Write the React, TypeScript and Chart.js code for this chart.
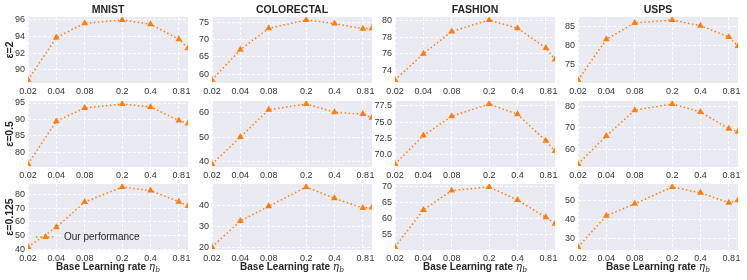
import React, { useEffect, useRef } from 'react';
import { Chart, registerables } from 'chart.js';

Chart.register(...registerables);

// ---------- data ----------
const datasetNames = ['MNIST', 'COLORECTAL', 'FASHION', 'USPS'];
const epsilonLabels = ['ε=2', 'ε=0.5', 'ε=0.125'];
const learningRates = [0.02, 0.04, 0.08, 0.2, 0.4, 0.8, 1];
const xTickLabels = ['0.02', '0.04', '0.08', '0.2', '0.4', '0.8', '1'];
const seriesLabel = 'Our performance';
const xAxisTitle = 'Base Learning rate ';

const mnistEps2 = [88.8, 93.9, 95.6, 96.0, 95.5, 93.7, 92.6];
const colorectalEps2 = [58.4, 67.1, 73.2, 75.6, 74.6, 73.1, 73.2];
const fashionEps2 = [72.8, 76.0, 78.7, 80.1, 79.1, 76.7, 75.3];
const uspsEps2 = [70.8, 81.6, 85.9, 86.7, 85.2, 82.2, 79.8];

const mnistEps05 = [76.5, 89.5, 93.5, 94.7, 93.8, 89.7, 88.8];
const colorectalEps05 = [39.1, 50.0, 61.1, 63.4, 60.1, 59.3, 57.8];
const fashionEps05 = [68.5, 72.9, 75.9, 77.8, 76.2, 72.1, 70.5];
const uspsEps05 = [53.1, 66.2, 78.2, 81.1, 77.4, 69.5, 68.2];

const mnistEps0125 = [41.7, 56.1, 74.5, 85.5, 82.9, 74.8, 71.6];
const colorectalEps0125 = [20.1, 32.5, 39.4, 48.6, 43.2, 38.6, 38.9];
const fashionEps0125 = [51.2, 62.8, 68.9, 70.0, 65.9, 60.5, 58.5];
const uspsEps0125 = [25.3, 41.8, 48.1, 57.0, 53.9, 48.7, 50.0];

const yTicksMnistEps2 = ['90', '92', '94', '96'];
const yTicksColorectalEps2 = ['60', '65', '70', '75'];
const yTicksFashionEps2 = ['74', '76', '78', '80'];
const yTicksUspsEps2 = ['75', '80', '85'];
const yTicksMnistEps05 = ['80', '85', '90', '95'];
const yTicksColorectalEps05 = ['40', '50', '60'];
const yTicksFashionEps05 = ['70.0', '72.5', '75.0', '77.5'];
const yTicksUspsEps05 = ['60', '70', '80'];
const yTicksMnistEps0125 = ['40', '50', '60', '70', '80'];
const yTicksColorectalEps0125 = ['20', '30', '40'];
const yTicksFashionEps0125 = ['55', '60', '65', '70'];
const yTicksUspsEps0125 = ['30', '40', '50'];

const SERIES = [
  [mnistEps2, colorectalEps2, fashionEps2, uspsEps2],
  [mnistEps05, colorectalEps05, fashionEps05, uspsEps05],
  [mnistEps0125, colorectalEps0125, fashionEps0125, uspsEps0125],
];
const Y_TICKS = [
  [yTicksMnistEps2, yTicksColorectalEps2, yTicksFashionEps2, yTicksUspsEps2],
  [yTicksMnistEps05, yTicksColorectalEps05, yTicksFashionEps05, yTicksUspsEps05],
  [yTicksMnistEps0125, yTicksColorectalEps0125, yTicksFashionEps0125, yTicksUspsEps0125],
];

// ---------- layout / style ----------
const PLOT_LEFT = [28, 212, 395, 578];
const PLOT_TOP = [17, 101, 184];
const PLOT_W = 160;
const PLOT_H = 66;
const Y_AXIS_W = 28;
const RIGHT_PAD = 8;
const TOP_PAD = 17;
const FONT = '"Liberation Sans", Arial, Helvetica, sans-serif';
const TEXT_COLOR = '#262626';
const TICK_COLOR = '#333333';
const ORANGE = '#ff7f0e';
const PANEL_BG = '#eaeaf2';

function Panel({ row, col }: { row: number; col: number }) {
  const ref = useRef<HTMLCanvasElement | null>(null);
  const xh = row === 2 ? 32 : 14;
  const left = PLOT_LEFT[col] - Y_AXIS_W;
  const top = PLOT_TOP[row] - TOP_PAD;
  const w = Y_AXIS_W + PLOT_W + RIGHT_PAD;
  const h = TOP_PAD + PLOT_H + xh;

  useEffect(() => {
    const canvas = ref.current;
    if (!canvas) return;
    const values = SERIES[row][col];
    const yTickStr = Y_TICKS[row][col];
    const dmin = Math.min(...values);
    const dmax = Math.max(...values);
    const span = dmax - dmin;
    const yMin = dmin - 0.05 * span;
    const yMax = dmax + 0.05 * span;

    const decor = {
      id: 'decor' + row + '_' + col,
      beforeDraw(chart: any) {
        const { ctx, chartArea: a } = chart;
        ctx.save();
        ctx.fillStyle = PANEL_BG;
        ctx.fillRect(a.left, a.top, a.right - a.left, a.bottom - a.top);
        ctx.restore();
      },
      afterDraw(chart: any) {
        const { ctx, chartArea: a } = chart;
        const cx = (a.left + a.right) / 2;
        ctx.save();
        ctx.fillStyle = TEXT_COLOR;
        if (row === 0) {
          ctx.font = `bold 10.5px ${FONT}`;
          ctx.textAlign = 'center';
          ctx.textBaseline = 'middle';
          ctx.fillText(datasetNames[col], cx, a.top - 7);
        }
        if (col === 0) {
          ctx.save();
          ctx.translate(10, (a.top + a.bottom) / 2);
          ctx.rotate(-Math.PI / 2);
          ctx.font = `bold 10.5px ${FONT}`;
          ctx.textAlign = 'center';
          ctx.textBaseline = 'middle';
          ctx.fillText(epsilonLabels[row], 0, 0);
          ctx.restore();
        }
        if (row === 2) {
          const y = a.bottom + 17;
          ctx.textBaseline = 'middle';
          ctx.textAlign = 'left';
          const f1 = `bold 10px ${FONT}`;
          const f2 = `italic 10.5px "DejaVu Serif", serif`;
          const f3 = `italic 7.5px "DejaVu Serif", serif`;
          ctx.font = f1;
          const w1 = ctx.measureText(xAxisTitle).width;
          ctx.font = f2;
          const w2 = ctx.measureText('η').width;
          ctx.font = f3;
          const w3 = ctx.measureText('b').width;
          let x = cx - (w1 + w2 + w3) / 2;
          ctx.font = f1;
          ctx.fillText(xAxisTitle, x, y);
          x += w1;
          ctx.font = f2;
          ctx.fillText('η', x, y);
          x += w2;
          ctx.font = f3;
          ctx.fillText('b', x, y + 3);
        }
        if (row === 2 && col === 0) {
          const ly = a.top + 53;
          const lx0 = a.left + 8;
          const lx1 = a.left + 27;
          ctx.strokeStyle = ORANGE;
          ctx.lineWidth = 1.5;
          ctx.setLineDash([1.5, 2.5]);
          ctx.beginPath();
          ctx.moveTo(lx0, ly);
          ctx.lineTo(lx1, ly);
          ctx.stroke();
          ctx.setLineDash([]);
          const mx = (lx0 + lx1) / 2;
          const r = 4;
          ctx.fillStyle = ORANGE;
          ctx.beginPath();
          ctx.moveTo(mx, ly - r);
          ctx.lineTo(mx + r * Math.sin(Math.PI / 3), ly + r / 2);
          ctx.lineTo(mx - r * Math.sin(Math.PI / 3), ly + r / 2);
          ctx.closePath();
          ctx.fill();
          ctx.fillStyle = TEXT_COLOR;
          ctx.font = `10px ${FONT}`;
          ctx.textAlign = 'left';
          ctx.textBaseline = 'middle';
          ctx.fillText(seriesLabel, a.left + 36, ly);
        }
        ctx.restore();
      },
    };

    const chart = new Chart(canvas, {
      type: 'line',
      data: {
        datasets: [
          {
            label: seriesLabel,
            data: values.map((v, i) => ({ x: learningRates[i], y: v })),
            borderColor: ORANGE,
            backgroundColor: ORANGE,
            borderWidth: 1.5,
            borderDash: [1.5, 2.5],
            pointStyle: 'triangle',
            pointRadius: 4,
            pointBackgroundColor: ORANGE,
            pointBorderColor: ORANGE,
            pointBorderWidth: 0,
            clip: 0,
            tension: 0,
          } as any,
        ],
      },
      options: {
        animation: false,
        responsive: false,
        devicePixelRatio: 1,
        events: [],
        layout: { padding: { left: 0, right: RIGHT_PAD, top: TOP_PAD, bottom: 0 } },
        plugins: {
          legend: { display: false },
          tooltip: { enabled: false },
          title: { display: false },
        },
        scales: {
          x: {
            type: 'logarithmic',
            min: 0.02,
            max: 1,
            afterBuildTicks: (s: any) => {
              s.ticks = learningRates.map((v) => ({ value: v }));
            },
            afterFit: (s: any) => {
              s.height = xh;
            },
            grid: { color: '#ffffff', lineWidth: 1, drawTicks: false },
            border: { display: false, dash: [3, 2] },
            ticks: {
              autoSkip: false,
              maxRotation: 0,
              minRotation: 0,
              padding: 3,
              color: TICK_COLOR,
              font: { family: FONT, size: 9 },
              callback: (_v: any, i: number) => xTickLabels[i],
            },
          },
          y: {
            type: 'linear',
            min: yMin,
            max: yMax,
            afterBuildTicks: (s: any) => {
              s.ticks = yTickStr.map((t) => ({ value: parseFloat(t) }));
            },
            afterFit: (s: any) => {
              s.width = Y_AXIS_W;
            },
            grid: { color: '#ffffff', lineWidth: 1, drawTicks: false },
            border: { display: false, dash: [3, 2] },
            ticks: {
              autoSkip: false,
              padding: 3,
              color: TICK_COLOR,
              font: { family: FONT, size: 9 },
              callback: (_v: any, i: number) => yTickStr[i],
            },
          },
        },
      } as any,
      plugins: [decor],
    });
    return () => chart.destroy();
  }, [row, col]);

  return (
    <canvas
      ref={ref}
      width={w}
      height={h}
      style={{ position: 'absolute', left, top, width: w, height: h }}
    />
  );
}

export default function App() {
  const panels = [];
  for (let r = 0; r < 3; r++) {
    for (let c = 0; c < 4; c++) {
      panels.push(<Panel key={r + '-' + c} row={r} col={c} />);
    }
  }
  return (
    <div
      style={{
        position: 'absolute',
        left: 0,
        top: 0,
        width: 747,
        height: 280,
        background: '#ffffff',
        overflow: 'hidden',
      }}
    >
      {panels}
    </div>
  );
}
